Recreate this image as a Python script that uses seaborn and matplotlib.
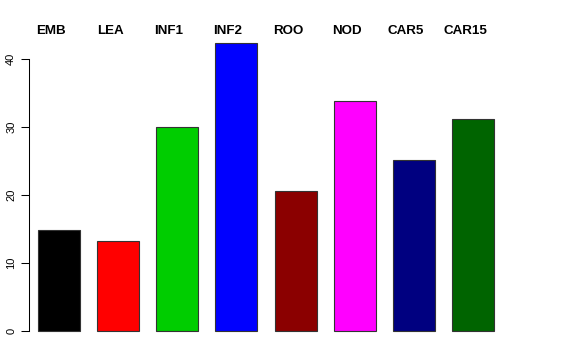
import matplotlib
matplotlib.use('Agg')
import matplotlib.pyplot as plt
import seaborn as sns
import pandas as pd

# tissue samples and their values
tissues = ['EMB', 'LEA', 'INF1', 'INF2', 'ROO', 'NOD', 'CAR5', 'CAR15']
values = [14.85, 13.3, 30.0, 42.35, 20.65, 33.8, 25.2, 31.2]
bar_colors = ['#000000', '#FF0000', '#00CD00', '#0000FF',
              '#8B0000', '#FF00FF', '#000080', '#006400']
y_ticks = [0, 10, 20, 30, 40]

# left edge (pixels) of each name along the top, as in the original
label_left_px = [36, 97, 154, 213, 273, 332, 387, 443]

sns.set_style('white')
plt.rcParams['font.family'] = ['Liberation Sans', 'DejaVu Sans']
plt.rcParams['text.color'] = 'black'
plt.rcParams['ytick.color'] = 'black'
plt.rcParams['ytick.labelcolor'] = 'black'

df = pd.DataFrame({'tissue': tissues, 'value': values})

W, H = 576, 360
fig = plt.figure(figsize=(W / 100, H / 100), dpi=100)
ax = fig.add_axes([29 / W, (H - 343) / H, 474 / W, 312 / H])

sns.barplot(data=df, x='tissue', y='value', hue='tissue',
            palette=bar_colors, legend=False, width=0.71,
            edgecolor='#333333', linewidth=0.8, saturation=1, ax=ax)

ax.set_xlim(-0.507, 7.507)
ax.set_ylim(-1.7, 44.1)
ax.set_xlabel('')
ax.set_ylabel('')
ax.set_xticks([])
ax.set_yticks(y_ticks)
ax.set_yticklabels([str(t) for t in y_ticks], rotation=90, va='center',
                   fontsize=8)
ax.tick_params(axis='y', left=True, length=5.8, width=0.75, pad=3.4,
               color='black', labelcolor='black')
for side in ['top', 'right', 'bottom']:
    ax.spines[side].set_visible(False)
ax.spines['left'].set_bounds(0, 40)
ax.spines['left'].set_color('black')
ax.spines['left'].set_linewidth(0.75)

for name, px in zip(tissues, label_left_px):
    fig.text(px / W, 1 - 30.5 / H, name, ha='left', va='center',
             fontsize=9.6, fontweight='bold', color='black')

fig.savefig('out.png', dpi=100, facecolor='white')
plt.close(fig)
